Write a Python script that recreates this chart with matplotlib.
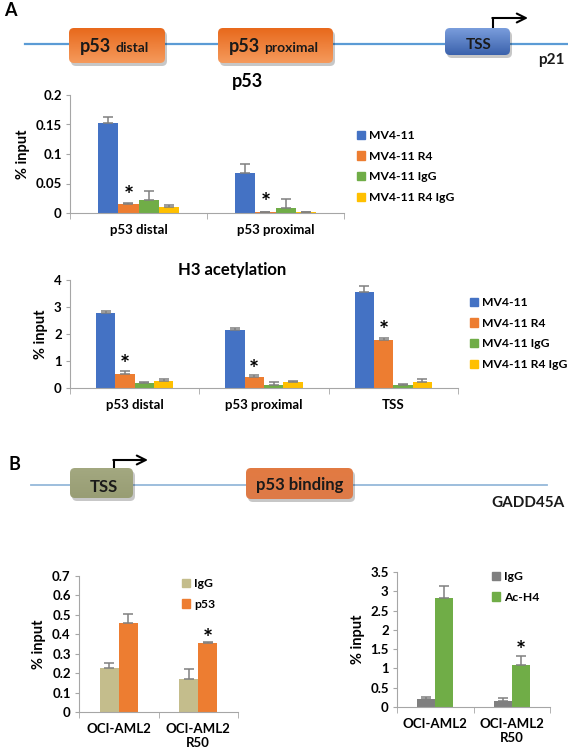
import numpy as np
import matplotlib
matplotlib.use('Agg')
import matplotlib.pyplot as plt
from matplotlib.patches import FancyBboxPatch, Patch
from matplotlib.colors import LinearSegmentedColormap

plt.rcParams['font.family'] = ['Lato', 'DejaVu Sans']
plt.rcParams['font.weight'] = 'bold'
plt.rcParams['axes.labelweight'] = 'bold'
plt.rcParams['axes.titleweight'] = 'bold'

# ---- data ----
p53_sites = ['p53 distal', 'p53 proximal']
h3_sites = ['p53 distal', 'p53 proximal', 'TSS']
mv_series = ['MV4-11', 'MV4-11 R4', 'MV4-11 IgG', 'MV4-11 R4 IgG']

p53_mean = [[0.153, 0.067], [0.016, 0.001], [0.022, 0.009], [0.011, 0.001]]
p53_err = [[0.010, 0.016], [0.001, 0.001], [0.016, 0.015], [0.003, 0.001]]
p53_star = [0.038, 0.026]

h3_mean = [[2.78, 2.15, 3.56], [0.52, 0.42, 1.79], [0.20, 0.12, 0.10], [0.25, 0.21, 0.22]]
h3_err = [[0.06, 0.06, 0.23], [0.12, 0.06, 0.06], [0.01, 0.12, 0.04], [0.08, 0.04, 0.12]]
h3_star = [1.05, 0.86, 2.28]

gadd_cells = ['OCI-AML2', 'OCI-AML2\nR50']
bind_series = ['IgG', 'p53']
bind_mean = [[0.227, 0.169], [0.459, 0.353]]
bind_err = [[0.026, 0.051], [0.043, 0.008]]
bind_star = [None, 0.404]

acet_series = ['IgG', 'Ac-H4']
acet_mean = [[0.216, 0.156], [2.835, 1.09]]
acet_err = [[0.044, 0.077], [0.295, 0.225]]
acet_star = [None, 1.57]

mv_colors = ['#4472C4', '#ED7D31', '#70AD47', '#FFC000']
bind_colors = ['#C4BD8C', '#ED7D31']
acet_colors = ['#7F7F7F', '#70AD47']
spine_col = '#a6a6a6'

W, H = 568, 750
fig = plt.figure(figsize=(W/100, H/100), dpi=100)


def fx(x):
    return x / W


def fy(y):
    return 1 - y / H


def rect(x0, y0, x1, y1):
    return [fx(x0), fy(y1), fx(x1) - fx(x0), fy(y0) - fy(y1)]


# ---- gene diagrams (pixel coords) ----
dg = fig.add_axes([0, 0, 1, 1], zorder=0)


def gbox(x0, y0, x1, y1, top, bottom, r=5):
    sh = FancyBboxPatch((x0 + 2, y0 + 3), x1 - x0, y1 - y0,
                        boxstyle='round,pad=0,rounding_size=%d' % r,
                        fc='black', ec='none', alpha=0.22, zorder=2)
    dg.add_patch(sh)
    p = FancyBboxPatch((x0, y0), x1 - x0, y1 - y0,
                       boxstyle='round,pad=0,rounding_size=%d' % r,
                       fc='none', ec='none', zorder=3)
    dg.add_patch(p)
    cm = LinearSegmentedColormap.from_list('g', [top, bottom])
    im = dg.imshow(np.linspace(0, 1, 64)[:, None], cmap=cm, aspect='auto',
                   extent=(x0, x1, y1, y0), zorder=3, interpolation='bilinear')
    im.set_clip_path(p)


def bent_arrow(x, y0, y1, x2):
    dg.plot([x, x], [y0, y1], color='black', lw=1.5, zorder=4, solid_capstyle='butt')
    dg.annotate('', xy=(x2, y1), xytext=(x - 0.7, y1),
                arrowprops=dict(arrowstyle='->', lw=1.5, color='black',
                                mutation_scale=16, shrinkA=0, shrinkB=0), zorder=4)


# panel A diagram
dg.plot([25, 568], [44, 44], color='#5B9BD5', lw=1.6, zorder=1)
gbox(69, 28, 165, 63, '#E8691C', '#F59A5C')
gbox(218, 28, 333, 63, '#E8691C', '#F59A5C')
gbox(445, 28, 510, 55, '#7A9DDC', '#3B62AC')
bent_arrow(493, 28, 18, 528)
dg.text(111, 52, 'p53', fontsize=13, ha='right', va='baseline', color='#1a1a1a')
dg.text(115, 52, 'distal', fontsize=10, ha='left', va='baseline', color='#1a1a1a')
dg.text(260, 52, 'p53', fontsize=13, ha='right', va='baseline', color='#1a1a1a')
dg.text(264, 52, 'proximal', fontsize=10, ha='left', va='baseline', color='#1a1a1a')
dg.text(479, 45, 'TSS', fontsize=11, ha='center', va='center', color='#1a1a1a')
dg.text(565, 60, 'p21', fontsize=11, ha='right', va='center', color='#1a1a1a')
dg.text(4, 10, 'A', fontsize=13, ha='left', va='center')

# panel B diagram
dg.plot([31, 547], [485, 485], color='#95B9DA', lw=1.3, zorder=1)
gbox(70, 468, 133, 498, '#A3A880', '#989D74')
gbox(246, 468, 353, 499, '#E27A42', '#DE7B48')
bent_arrow(114, 468, 460, 148)
dg.text(104, 487, 'TSS', fontsize=12, ha='center', va='center', color='#1a1a1a')
dg.text(300, 485, 'p53 binding', fontsize=12, ha='center', va='center', color='#1a1a1a')
dg.text(565, 503, 'GADD45A', fontsize=11, ha='right', va='center', color='#1a1a1a')
dg.text(8, 465, 'B', fontsize=13, ha='left', va='center')

dg.set_xlim(0, W)
dg.set_ylim(H, 0)
dg.axis('off')


# ---- bar charts ----
def bar_chart(box, cats, means, errs, colors, width, stars, ymax, ystep):
    ax = fig.add_axes(rect(*box), zorder=2)
    ax.patch.set_alpha(0)
    x = np.arange(len(cats))
    n = len(means)
    for i in range(n):
        off = (i - (n - 1) / 2) * width
        ax.bar(x + off, means[i], width, color=colors[i], zorder=2)
        ax.errorbar(x + off, means[i], yerr=[np.zeros(len(cats)), errs[i]], fmt='none',
                    ecolor='#808080', elinewidth=1.1, capsize=3.5, capthick=1.1, zorder=3)
    # asterisks over the second series
    off = (1 - (n - 1) / 2) * width
    for j, s in enumerate(stars):
        if s is not None:
            ax.annotate('*', (x[j] + off, s), xytext=(0, -4), textcoords='offset points',
                        ha='center', va='center', fontsize=17, fontweight='bold', zorder=4)
    ax.set_xlim(-0.5, len(cats) - 0.5)
    ax.set_ylim(0, ymax)
    ticks = np.arange(0, ymax + ystep / 2, ystep)
    ax.set_yticks(ticks)
    ax.set_yticklabels(['%g' % round(t, 3) for t in ticks], fontsize=9.5)
    ax.set_xticks(x)
    ax.set_xticklabels(cats, fontsize=9.5)
    ax.set_xticks(np.arange(len(cats) + 1) - 0.5, minor=True)
    ax.tick_params(axis='x', which='major', length=0, pad=8)
    ax.tick_params(axis='x', which='minor', length=4, color=spine_col)
    ax.tick_params(axis='y', length=3, color=spine_col, pad=3)
    for sp in ['top', 'right']:
        ax.spines[sp].set_visible(False)
    ax.spines['left'].set_color(spine_col)
    ax.spines['bottom'].set_color(spine_col)
    ax.set_ylabel('% input', fontsize=10.5, labelpad=4)
    return ax


def add_legend(ax, labels, colors, px, py, spacing=0.8):
    handles = [Patch(color=c, label=l) for l, c in zip(labels, colors)]
    ax.legend(handles=handles, loc='upper left', bbox_to_anchor=(fx(px), fy(py)),
              bbox_transform=fig.transFigure, frameon=False, fontsize=8.7,
              handlelength=0.7, handleheight=0.7, handletextpad=0.3,
              labelspacing=spacing, borderpad=0, borderaxespad=0)


ax1 = bar_chart((70, 95, 344, 213), p53_sites, p53_mean, p53_err, mv_colors,
                0.146, p53_star, 0.2, 0.05)
fig.text(fx(248), fy(82), 'p53', fontsize=13, ha='center', va='center')
add_legend(ax1, mv_series, mv_colors, 357, 130)

ax2 = bar_chart((70, 280, 458, 388), h3_sites, h3_mean, h3_err, mv_colors,
                0.15, h3_star, 4, 1)
fig.text(fx(232), fy(270), 'H3 acetylation', fontsize=12, ha='center', va='center')
add_legend(ax2, mv_series, mv_colors, 470, 297)

ax3 = bar_chart((79, 576, 238, 712), gadd_cells, bind_mean, bind_err, bind_colors,
                0.24, bind_star, 0.7, 0.1)
add_legend(ax3, bind_series, bind_colors, 182, 578)

ax4 = bar_chart((397, 572, 550, 707), gadd_cells, acet_mean, acet_err, acet_colors,
                0.235, acet_star, 3.5, 0.5)
add_legend(ax4, acet_series, acet_colors, 492, 571)

fig.savefig('out.png', dpi=100)
